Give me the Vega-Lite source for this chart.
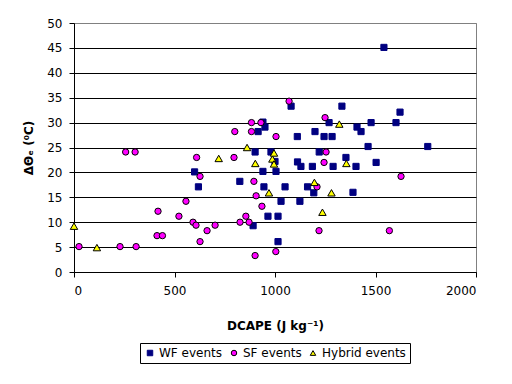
{
  "$schema": "https://vega.github.io/schema/vega-lite/v6.json",
  "width": 402,
  "height": 249,
  "autosize": "none",
  "padding": {"left": 74, "top": 23, "right": 36, "bottom": 112},
  "background": "white",
  "config": {
    "view": {"stroke": "#808080", "strokeWidth": 1},
    "font": "DejaVu Sans",
    "axis": {"labelFont": "DejaVu Sans", "labelFontSize": 12, "labelColor": "black", "domainColor": "black", "tickColor": "black", "tickSize": 5, "titleColor": "black"},
    "legend": {"labelFont": "DejaVu Sans", "labelFontSize": 12, "labelColor": "black"}
  },
  "datasets": {
    "wf": [
      {"series": "WF events", "dcape": 600, "dte": 20.1},
      {"series": "WF events", "dcape": 619, "dte": 17.1},
      {"series": "WF events", "dcape": 825, "dte": 18.2},
      {"series": "WF events", "dcape": 891, "dte": 9.3},
      {"series": "WF events", "dcape": 901, "dte": 24.1},
      {"series": "WF events", "dcape": 916, "dte": 28.2},
      {"series": "WF events", "dcape": 940, "dte": 30.1},
      {"series": "WF events", "dcape": 950, "dte": 29.1},
      {"series": "WF events", "dcape": 940, "dte": 20.2},
      {"series": "WF events", "dcape": 945, "dte": 17.1},
      {"series": "WF events", "dcape": 965, "dte": 11.2},
      {"series": "WF events", "dcape": 980, "dte": 24.1},
      {"series": "WF events", "dcape": 1000, "dte": 22.2},
      {"series": "WF events", "dcape": 1005, "dte": 20.2},
      {"series": "WF events", "dcape": 1015, "dte": 11.2},
      {"series": "WF events", "dcape": 1015, "dte": 6.1},
      {"series": "WF events", "dcape": 1030, "dte": 14.2},
      {"series": "WF events", "dcape": 1050, "dte": 17.1},
      {"series": "WF events", "dcape": 1080, "dte": 33.3},
      {"series": "WF events", "dcape": 1111, "dte": 27.2},
      {"series": "WF events", "dcape": 1112, "dte": 22.1},
      {"series": "WF events", "dcape": 1129, "dte": 21.2},
      {"series": "WF events", "dcape": 1124, "dte": 14.2},
      {"series": "WF events", "dcape": 1162, "dte": 17.1},
      {"series": "WF events", "dcape": 1186, "dte": 21.2},
      {"series": "WF events", "dcape": 1193, "dte": 15.9},
      {"series": "WF events", "dcape": 1199, "dte": 28.2},
      {"series": "WF events", "dcape": 1220, "dte": 24.1},
      {"series": "WF events", "dcape": 1244, "dte": 27.2},
      {"series": "WF events", "dcape": 1269, "dte": 30.0},
      {"series": "WF events", "dcape": 1284, "dte": 27.2},
      {"series": "WF events", "dcape": 1289, "dte": 21.2},
      {"series": "WF events", "dcape": 1333, "dte": 33.3},
      {"series": "WF events", "dcape": 1353, "dte": 23.0},
      {"series": "WF events", "dcape": 1388, "dte": 16.0},
      {"series": "WF events", "dcape": 1403, "dte": 21.2},
      {"series": "WF events", "dcape": 1408, "dte": 29.1},
      {"series": "WF events", "dcape": 1428, "dte": 28.2},
      {"series": "WF events", "dcape": 1463, "dte": 25.2},
      {"series": "WF events", "dcape": 1478, "dte": 30.0},
      {"series": "WF events", "dcape": 1503, "dte": 22.0},
      {"series": "WF events", "dcape": 1542, "dte": 45.1},
      {"series": "WF events", "dcape": 1602, "dte": 30.0},
      {"series": "WF events", "dcape": 1622, "dte": 32.1},
      {"series": "WF events", "dcape": 1760, "dte": 25.2}
    ],
    "sf": [
      {"series": "SF events", "dcape": 25, "dte": 5.1},
      {"series": "SF events", "dcape": 229, "dte": 5.1},
      {"series": "SF events", "dcape": 257, "dte": 24.1},
      {"series": "SF events", "dcape": 304, "dte": 24.1},
      {"series": "SF events", "dcape": 309, "dte": 5.1},
      {"series": "SF events", "dcape": 418, "dte": 12.2},
      {"series": "SF events", "dcape": 413, "dte": 7.3},
      {"series": "SF events", "dcape": 440, "dte": 7.3},
      {"series": "SF events", "dcape": 522, "dte": 11.2},
      {"series": "SF events", "dcape": 557, "dte": 14.2},
      {"series": "SF events", "dcape": 592, "dte": 10.0},
      {"series": "SF events", "dcape": 607, "dte": 9.4},
      {"series": "SF events", "dcape": 610, "dte": 23.0},
      {"series": "SF events", "dcape": 627, "dte": 19.2},
      {"series": "SF events", "dcape": 627, "dte": 6.1},
      {"series": "SF events", "dcape": 662, "dte": 8.3},
      {"series": "SF events", "dcape": 702, "dte": 9.4},
      {"series": "SF events", "dcape": 796, "dte": 23.0},
      {"series": "SF events", "dcape": 800, "dte": 28.2},
      {"series": "SF events", "dcape": 826, "dte": 10.0},
      {"series": "SF events", "dcape": 855, "dte": 11.2},
      {"series": "SF events", "dcape": 871, "dte": 10.0},
      {"series": "SF events", "dcape": 883, "dte": 30.0},
      {"series": "SF events", "dcape": 883, "dte": 28.2},
      {"series": "SF events", "dcape": 895, "dte": 18.2},
      {"series": "SF events", "dcape": 901, "dte": 3.3},
      {"series": "SF events", "dcape": 906, "dte": 15.3},
      {"series": "SF events", "dcape": 930, "dte": 30.0},
      {"series": "SF events", "dcape": 935, "dte": 13.2},
      {"series": "SF events", "dcape": 1005, "dte": 27.2},
      {"series": "SF events", "dcape": 1004, "dte": 4.1},
      {"series": "SF events", "dcape": 1070, "dte": 34.3},
      {"series": "SF events", "dcape": 1209, "dte": 17.1},
      {"series": "SF events", "dcape": 1219, "dte": 8.3},
      {"series": "SF events", "dcape": 1244, "dte": 22.0},
      {"series": "SF events", "dcape": 1249, "dte": 31.0},
      {"series": "SF events", "dcape": 1254, "dte": 24.1},
      {"series": "SF events", "dcape": 1569, "dte": 8.3},
      {"series": "SF events", "dcape": 1627, "dte": 19.2}
    ],
    "hy": [
      {"series": "Hybrid events", "dcape": 0, "dte": 9.2},
      {"series": "Hybrid events", "dcape": 114, "dte": 4.9},
      {"series": "Hybrid events", "dcape": 720, "dte": 22.8},
      {"series": "Hybrid events", "dcape": 861, "dte": 25.0},
      {"series": "Hybrid events", "dcape": 902, "dte": 21.8},
      {"series": "Hybrid events", "dcape": 970, "dte": 15.9},
      {"series": "Hybrid events", "dcape": 987, "dte": 22.7},
      {"series": "Hybrid events", "dcape": 995, "dte": 23.9},
      {"series": "Hybrid events", "dcape": 995, "dte": 21.7},
      {"series": "Hybrid events", "dcape": 1196, "dte": 18.0},
      {"series": "Hybrid events", "dcape": 1236, "dte": 12.0},
      {"series": "Hybrid events", "dcape": 1281, "dte": 15.9},
      {"series": "Hybrid events", "dcape": 1320, "dte": 29.7},
      {"series": "Hybrid events", "dcape": 1355, "dte": 21.8}
    ]
  },
  "encoding": {
    "x": {
      "field": "dcape", "type": "quantitative",
      "scale": {"domain": [0, 2000], "nice": false, "zero": false},
      "axis": {
        "values": [0, 500, 1000, 1500, 2000], "grid": false, "format": "d",
        "labelPadding": 8,
        "title": "DCAPE (J kg⁻¹)", "titleFont": "DejaVu Sans", "titleFontSize": 12, "titleFontWeight": "bold",
        "titleX": 201, "titleY": 53, "titleBaseline": "middle"
      }
    },
    "y": {
      "field": "dte", "type": "quantitative",
      "scale": {"domain": [0, 50], "nice": false},
      "axis": {
        "values": [0, 5, 10, 15, 20, 25, 30, 35, 40, 45, 50],
        "grid": true,
        "gridColor": {"condition": {"test": "datum.value == 50", "value": "#808080"}, "value": "black"},
        "gridOpacity": 1,
        "labelPadding": 7,
        "title": "ΔΘₑ (⁰C)", "titleFont": "DejaVu Sans", "titleFontSize": 12, "titleFontWeight": "bold",
        "titleAngle": -90, "titleX": -46, "titleY": 124.5, "titleBaseline": "middle", "titleAlign": "center"
      }
    },
    "fill": {
      "field": "series", "type": "nominal",
      "scale": {"domain": ["WF events", "SF events", "Hybrid events"], "range": ["#000080", "#FF00FF", "#FFFF00"]},
      "legend": {
        "title": null, "orient": "none", "direction": "horizontal",
        "legendX": 66, "legendY": 320,
        "strokeColor": "black", "padding": 4, "symbolSize": 30,
        "symbolStrokeWidth": 1, "labelOffset": 3, "columnPadding": 5
      }
    },
    "stroke": {
      "field": "series", "type": "nominal",
      "scale": {"domain": ["WF events", "SF events", "Hybrid events"], "range": ["#000080", "black", "black"]}
    },
    "shape": {
      "field": "series", "type": "nominal",
      "scale": {"domain": ["WF events", "SF events", "Hybrid events"], "range": ["square", "circle", "triangle-up"]}
    }
  },
  "layer": [
    {"data": {"name": "wf"}, "mark": {"type": "point", "filled": true, "size": 38, "strokeWidth": 1, "opacity": 1}},
    {"data": {"name": "sf"}, "mark": {"type": "point", "filled": true, "size": 40, "strokeWidth": 1, "opacity": 1}},
    {"data": {"name": "hy"}, "mark": {"type": "point", "filled": true, "size": 55, "strokeWidth": 1, "opacity": 1}}
  ]
}
